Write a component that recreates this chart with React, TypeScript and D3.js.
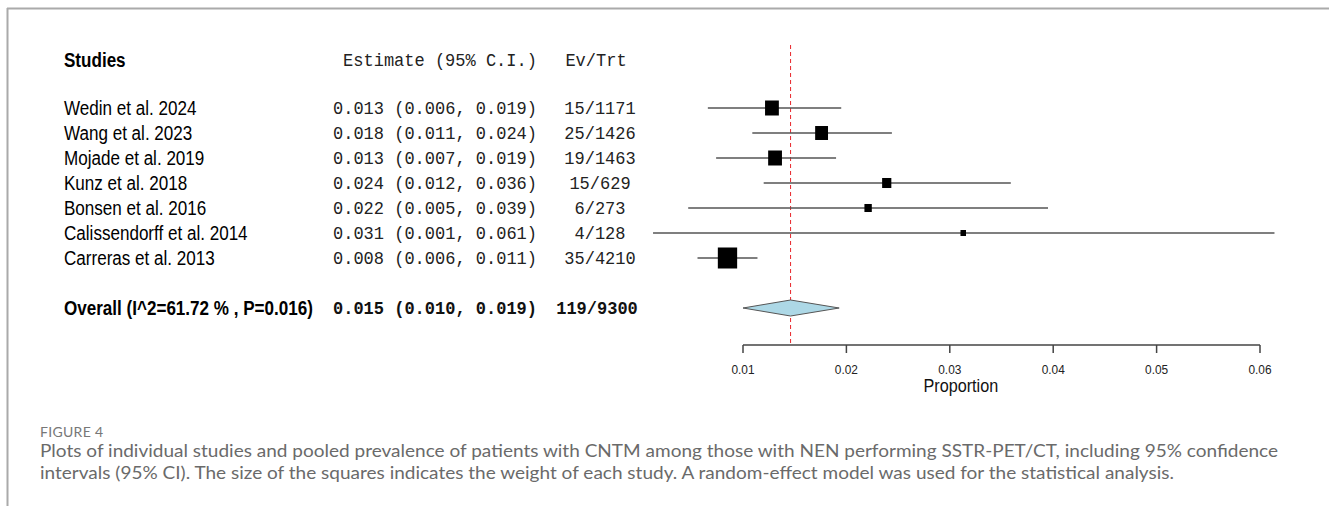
import { useEffect } from "react";
import * as d3 from "d3";

// study data
const studies = [
  "Wedin et al. 2024",
  "Wang et al. 2023",
  "Mojade et al. 2019",
  "Kunz et al. 2018",
  "Bonsen et al. 2016",
  "Calissendorff et al. 2014",
  "Carreras et al. 2013",
];
const estimate = [0.0128, 0.0176, 0.0131, 0.0239, 0.0221, 0.0313, 0.0085];
const lower = [0.0066, 0.0109, 0.0074, 0.012, 0.0047, 0.0013, 0.0056];
const upper = [0.0195, 0.0244, 0.019, 0.0359, 0.0395, 0.0614, 0.0114];
const weights = [17.5, 15.2, 17.5, 7.8, 5.0, 2.8, 34.3];
const estLabels = [
  "0.013 (0.006, 0.019)",
  "0.018 (0.011, 0.024)",
  "0.013 (0.007, 0.019)",
  "0.024 (0.012, 0.036)",
  "0.022 (0.005, 0.039)",
  "0.031 (0.001, 0.061)",
  "0.008 (0.006, 0.011)",
];
const evTrt = ["15/1171", "25/1426", "19/1463", "15/629", "6/273", "4/128", "35/4210"];

const overall = { est: 0.0146, lo: 0.01, hi: 0.0193 };
const overallLabel = "Overall (I^2=61.72 % , P=0.016)";
const overallEst = "0.015 (0.010, 0.019)";
const overallEv = "119/9300";

const xTicks = [0.01, 0.02, 0.03, 0.04, 0.05, 0.06];

const captionTitle = "FIGURE 4";
const captionLines = [
  "Plots of individual studies and pooled prevalence of patients with CNTM among those with NEN performing SSTR-PET/CT, including 95% confidence",
  "intervals (95% CI). The size of the squares indicates the weight of each study. A random-effect model was used for the statistical analysis.",
];

const W = 1329;
const H = 506;
const SANS = "'Liberation Sans', Arial, sans-serif";
const MONO = "'Liberation Mono', 'Courier New', monospace";

export default function App() {
  useEffect(() => {
    document.body.style.margin = "0";
  }, []);

  const x = d3.scaleLinear().domain([0.01, 0.06]).range([743, 1260]);
  const row = d3.scaleLinear().domain([0, 6]).range([108, 258]);
  const side = d3.scaleSqrt().domain([0, d3.max(weights) as number]).range([0, 21]);

  const headerY = row(-1.92);
  const overallY = row(8);
  const axisY = 345;

  const txt = (
    s: string,
    tx: number,
    ty: number,
    opts: { font: string; size: number; sx: number; anchor?: string; weight?: string; fill?: string }
  ) => (
    <text
      transform={`translate(${tx},${ty}) scale(${opts.sx},1)`}
      fontFamily={opts.font}
      fontSize={opts.size}
      fontWeight={opts.weight || "normal"}
      textAnchor={opts.anchor || "start"}
      fill={opts.fill || "#111"}
      dy="0.35em"
      style={{ whiteSpace: "pre" }}
    >
      {s}
    </text>
  );

  const sansOpt = { font: SANS, size: 19.5, sx: 0.875, fill: "#000" };
  const monoOpt = { font: MONO, size: 18, sx: 0.945, fill: "#222" };

  const diamond = d3.line()([
    [x(overall.lo), overallY],
    [x(overall.est), overallY - 8],
    [x(overall.hi), overallY],
    [x(overall.est), overallY + 8],
  ]) + "Z";

  return (
    <svg width={W} height={H} style={{ display: "block", background: "#fff" }}>
      {/* frame */}
      <line x1={7} x2={W} y1={8.5} y2={8.5} stroke="#aaa" strokeWidth={2} />
      <line x1={7.5} x2={7.5} y1={8} y2={H} stroke="#aaa" strokeWidth={2} />

      {/* header */}
      {txt("Studies", 64, headerY, { ...sansOpt, weight: "bold" })}
      {txt("Estimate (95% C.I.)", 440, headerY, { ...monoOpt, anchor: "middle" })}
      {txt("Ev/Trt", 596, headerY, { ...monoOpt, anchor: "middle" })}

      {/* reference line at pooled estimate */}
      <line
        x1={x(overall.est)}
        x2={x(overall.est)}
        y1={45}
        y2={axisY}
        stroke="#e8262b"
        strokeWidth={1}
        strokeDasharray="4,3"
      />

      {studies.map((s, i) => {
        const y = row(i);
        const sz = side(weights[i]);
        return (
          <g key={s}>
            {txt(s, 64, y, sansOpt)}
            {txt(estLabels[i], 435, y, { ...monoOpt, anchor: "middle" })}
            {txt(evTrt[i], 600, y, { ...monoOpt, anchor: "middle" })}
            <line x1={x(lower[i])} x2={x(upper[i])} y1={y} y2={y} stroke="#555" strokeWidth={1.3} />
            <rect
              x={x(estimate[i]) - (sz * 0.92) / 2}
              y={y - sz / 2}
              width={sz * 0.92}
              height={sz}
              fill="#000"
            />
          </g>
        );
      })}

      {/* overall */}
      {txt(overallLabel, 64, overallY, { ...sansOpt, weight: "bold" })}
      {txt(overallEst, 435, overallY, { ...monoOpt, anchor: "middle", weight: "bold", fill: "#111" })}
      {txt(overallEv, 597, overallY, { ...monoOpt, anchor: "middle", weight: "bold", fill: "#111" })}
      <path d={diamond} fill="#add8e6" stroke="#555" strokeWidth={1} />

      {/* axis */}
      <g>
        <line x1={x(0.01)} x2={x(0.06)} y1={axisY} y2={axisY} stroke="#444" strokeWidth={1.5} />
        {xTicks.map((t) => (
          <g key={t}>
            <line x1={x(t)} x2={x(t)} y1={axisY} y2={axisY + 8} stroke="#444" strokeWidth={1.5} />
            {txt(d3.format(".2f")(t), x(t), 369, { font: SANS, size: 13.5, sx: 0.88, anchor: "middle", fill: "#222" })}
          </g>
        ))}
        {txt("Proportion", x(0.03) + 11, 386, { font: SANS, size: 18, sx: 0.9, anchor: "middle", fill: "#111" })}
      </g>

      {/* caption */}
      <text x={40} y={437} fontFamily="Lato, 'Open Sans', sans-serif" fontSize={14} fill="#777" letterSpacing={0.3}>
        {captionTitle}
      </text>
      {captionLines.map((l, i) => (
        <text
          key={i}
          x={40}
          y={457 + i * 22}
          fontFamily="Lato, 'Open Sans', sans-serif"
          fontSize={17}
          fill="#6a6a6a"
          textLength={i === 0 ? 1238 : 1134}
          lengthAdjust="spacingAndGlyphs"
        >
          {l}
        </text>
      ))}
    </svg>
  );
}
